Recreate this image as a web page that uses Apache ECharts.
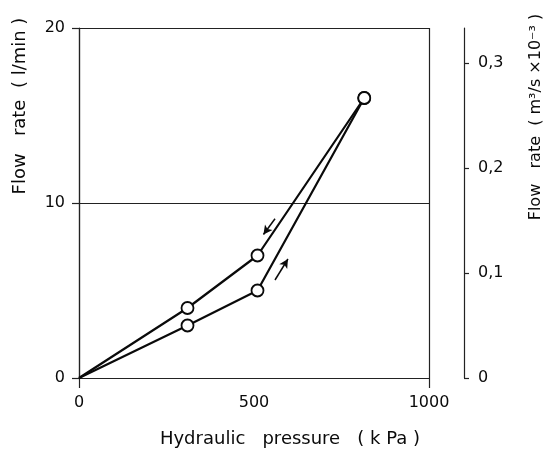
<!DOCTYPE html>
<html>
<head>
<meta charset="utf-8">
<script src="https://cdn.jsdelivr.net/npm/echarts@6/dist/echarts.min.js"></script>
<style>
  html, body { margin: 0; padding: 0; background: #fff; }
  #chart { width: 547px; height: 452px; }
</style>
</head>
<body>
<div id="chart"></div>
<script>
// Measured points: hydraulic pressure (kPa) vs. flow rate (l/min)
const pressure = [0, 310, 510, 815];
const flowDecreasing = [0, 4, 7, 16.0];   // unloading branch (upper)
const flowIncreasing = [0, 3, 5, 16.0];   // loading branch (lower)

// Direction arrows along each branch: [from, to] in data units
const arrowDown = [[560, 9.1], [527, 8.2]];
const arrowUp = [[560, 5.6], [597, 6.8]];

// Axis ticks
const xTicks = [0, 500, 1000];
const xTickMarks = [0, 1000];
const yTicks = [0, 10, 20];
const ySiTicks = [0, 0.1, 0.2, 0.3];

const FONT = 'DejaVu Sans';
const INK = '#0a0a0a';
const AXIS = '#222';

const pairs = (ys) => pressure.map((x, i) => [x, ys[i]]);

const chart = echarts.init(document.getElementById('chart'), null, { renderer: 'canvas' });

// Open circles at every measured point except the origin
const lineSeries = (name, ys) => ({
  name,
  type: 'line',
  data: pairs(ys),
  symbol: (v) => (v[0] === 0 ? 'none' : 'circle'),
  symbolSize: 12,
  showSymbol: true,
  lineStyle: { color: INK, width: 2.2 },
  itemStyle: { color: '#fff', borderColor: INK, borderWidth: 1.8 },
  z: 3
});

const arrowSeries = (name, seg) => ({
  name,
  type: 'line',
  data: [],
  markLine: {
    silent: true,
    animation: false,
    symbol: ['none', 'arrow'],
    symbolSize: [7, 9],
    label: { show: false },
    lineStyle: { color: INK, width: 1.5, type: 'solid' },
    data: [[{ coord: seg[0] }, { coord: seg[1] }]]
  }
});

chart.setOption({
  animation: false,
  backgroundColor: '#fff',
  grid: { left: 79, right: 118, top: 28, bottom: 74 },
  xAxis: {
    type: 'value',
    min: 0, max: 1000, interval: 500,
    axisLine: { show: true, onZero: false, lineStyle: { color: AXIS, width: 1.2 } },
    axisTick: { show: true, length: 10, customValues: xTickMarks, lineStyle: { color: AXIS, width: 1.2 } },
    axisLabel: {
      margin: 17, fontFamily: FONT, fontSize: 16, color: INK,
      customValues: xTicks, formatter: (v) => String(v)
    },
    splitLine: { show: true, lineStyle: { color: AXIS, width: 1.2 } }
  },
  yAxis: [
    {
      type: 'value',
      min: 0, max: 20, interval: 10,
      axisLine: { show: true, lineStyle: { color: AXIS, width: 1.2 } },
      axisTick: { show: true, length: 7, lineStyle: { color: AXIS, width: 1.2 } },
      axisLabel: {
        margin: 14, fontFamily: FONT, fontSize: 16, color: INK,
        customValues: yTicks, formatter: (v) => String(v)
      },
      splitLine: { show: true, lineStyle: { color: AXIS, width: 1.2 } }
    },
    {
      type: 'value',
      position: 'right',
      offset: 35,
      min: 0, max: 20 / 60,
      axisLine: { show: true, lineStyle: { color: AXIS, width: 1.2 } },
      axisTick: { show: true, length: 5, customValues: ySiTicks, lineStyle: { color: AXIS, width: 1.2 } },
      axisLabel: {
        margin: 14, fontFamily: FONT, fontSize: 16, color: INK,
        customValues: ySiTicks,
        formatter: (v) => (v === 0 ? '0' : v.toFixed(1).replace('.', ','))
      },
      splitLine: { show: false }
    }
  ],
  graphic: [
    {
      type: 'text', x: 20, y: 106, rotation: Math.PI / 2,
      style: {
        text: 'Flow   rate  ( l/min )', fontFamily: FONT, fontSize: 18, fill: INK,
        textAlign: 'center', textVerticalAlign: 'middle'
      }
    },
    {
      type: 'text', x: 536, y: 117, rotation: Math.PI / 2,
      style: {
        text: 'Flow   rate  ( m³/s ×10⁻³ )', fontFamily: FONT, fontSize: 16, fill: INK,
        textAlign: 'center', textVerticalAlign: 'middle'
      }
    },
    {
      type: 'text', x: 290, y: 439,
      style: {
        text: 'Hydraulic   pressure   ( k Pa )', fontFamily: FONT, fontSize: 18, fill: INK,
        textAlign: 'center', textVerticalAlign: 'middle'
      }
    }
  ],
  series: [
    lineSeries('Decreasing pressure', flowDecreasing),
    lineSeries('Increasing pressure', flowIncreasing),
    arrowSeries('arrow down', arrowDown),
    arrowSeries('arrow up', arrowUp)
  ]
});
</script>
</body>
</html>
